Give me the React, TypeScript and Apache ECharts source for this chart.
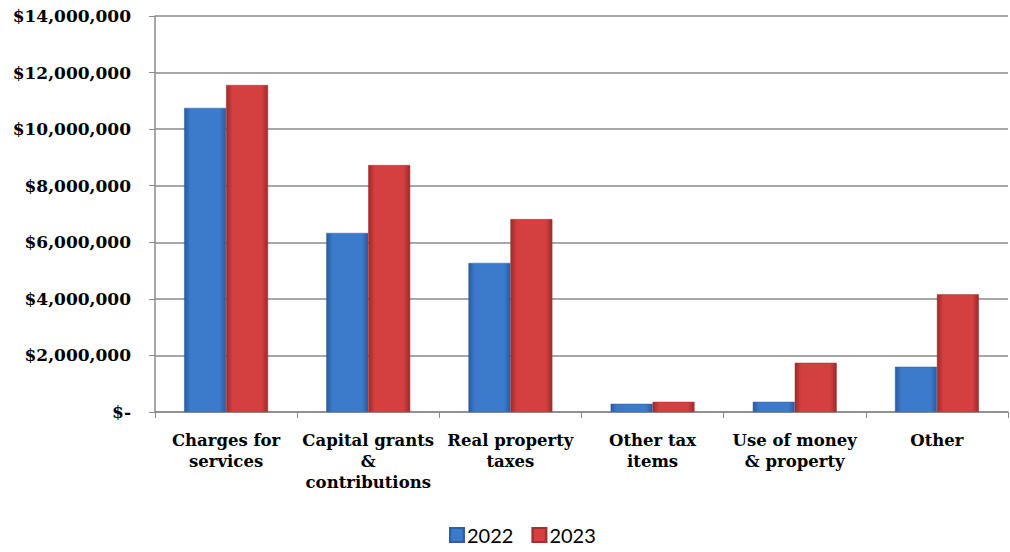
import React, { useEffect, useRef } from "react";
import * as echarts from "echarts";

const categories = [
  "Charges for\nservices",
  "Capital grants\n&\ncontributions",
  "Real property\ntaxes",
  "Other tax\nitems",
  "Use of money\n& property",
  "Other",
];
const values2022 = [10750000, 6330000, 5270000, 290000, 360000, 1600000];
const values2023 = [11560000, 8730000, 6820000, 360000, 1740000, 4160000];
const yTicks = { min: 0, max: 14000000, interval: 2000000 };

const grad = (edge: string, mid: string) =>
  new echarts.graphic.LinearGradient(0, 0, 1, 0, [
    { offset: 0, color: edge },
    { offset: 0.15, color: mid },
    { offset: 0.85, color: mid },
    { offset: 1, color: edge },
  ]);

export default function App() {
  const ref = useRef<HTMLDivElement>(null);
  useEffect(() => {
    const chart = echarts.init(ref.current!, null, { renderer: "svg" });
    const labelFont = { fontFamily: "DejaVu Serif", fontWeight: "bold" as const, color: "#000" };
    chart.setOption({
      animation: false,
      backgroundColor: "#fff",
      grid: { left: 155, right: 2, top: 16, bottom: 140, containLabel: false },
      legend: {
        bottom: 2,
        left: 444,
        itemWidth: 14,
        itemHeight: 14,
        itemGap: 18,
        icon: "rect",
        textStyle: { fontFamily: "Lato", fontSize: 20, color: "#000", padding: [0, 0, 0, -2] },
        data: ["2022", "2023"],
      },
      xAxis: {
        type: "category",
        data: categories,
        axisLine: { lineStyle: { color: "#8a8a8a", width: 1.5 } },
        axisTick: { show: true, length: 6, lineStyle: { color: "#8a8a8a" } },
        axisLabel: { ...labelFont, fontSize: 16.5, margin: 18, lineHeight: 21, interval: 0 },
      },
      yAxis: {
        type: "value",
        ...yTicks,
        axisLine: { show: true, lineStyle: { color: "#8a8a8a", width: 1.5 } },
        axisTick: { show: true, length: 6, lineStyle: { color: "#8a8a8a" } },
        splitLine: { lineStyle: { color: "#8a8a8a", width: 1.5 } },
        axisLabel: {
          ...labelFont,
          fontSize: 17,
          margin: 24,
          formatter: (v: number) => (v === 0 ? "$-" : "$" + v.toLocaleString("en-US")),
        },
      },
      series: [
        {
          name: "2022",
          type: "bar",
          data: values2022,
          barGap: "0%",
          barCategoryGap: "41%",
          itemStyle: { color: grad("#2a5a9e", "#3c7bcb"), borderColor: "#2f5f9f", borderWidth: 0.5 },
        },
        {
          name: "2023",
          type: "bar",
          data: values2023,
          itemStyle: { color: grad("#9e2a2a", "#d43f3f"), borderColor: "#a03030", borderWidth: 0.5 },
        },
      ],
    });
    return () => chart.dispose();
  }, []);
  return <div ref={ref} style={{ width: 1010, height: 552, position: "absolute", left: 0, top: 0 }} />;
}
